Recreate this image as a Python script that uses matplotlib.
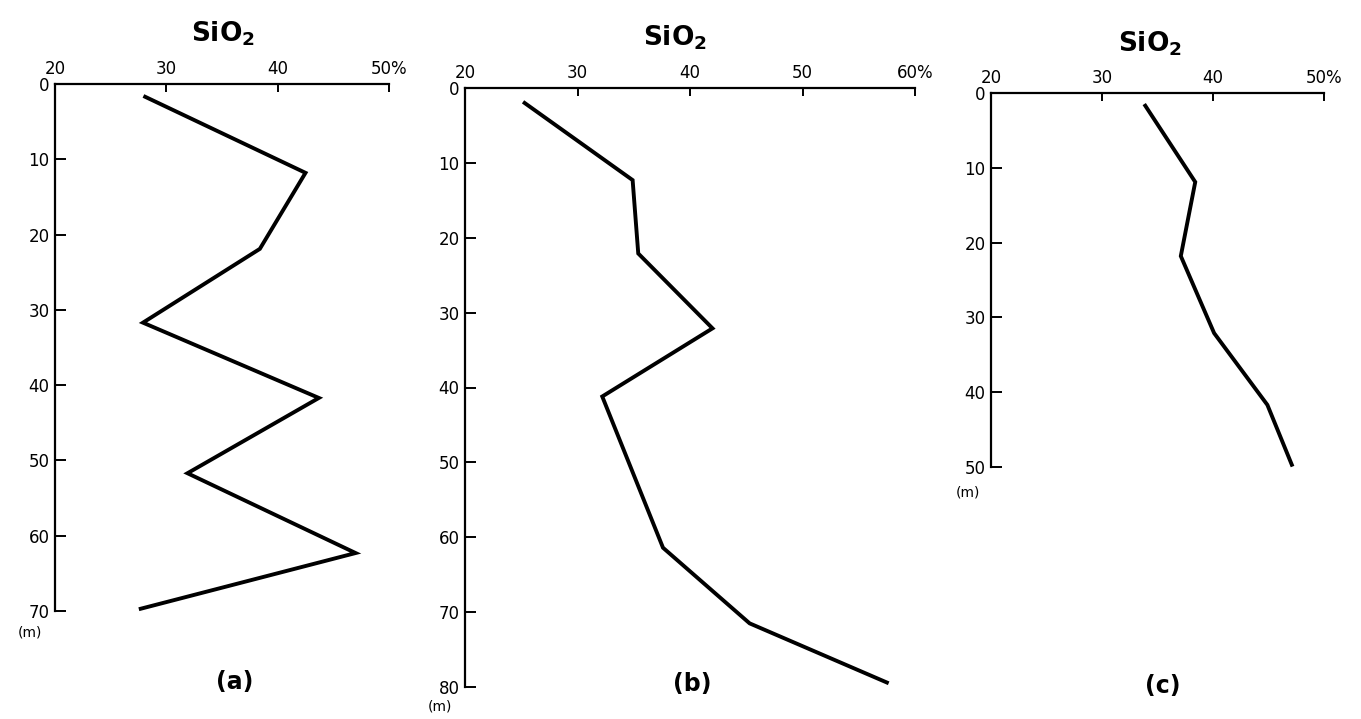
import matplotlib.pyplot as plt

# SiO2 (%) vs depth (m), three profiles
depth_a = [1.7, 11.8, 21.9, 31.7, 41.7, 51.7, 62.3, 69.7]
sio2_a = [28.1, 42.5, 38.4, 27.9, 43.7, 31.9, 47.0, 27.7]

depth_b = [2.0, 12.3, 22.1, 32.1, 41.2, 61.4, 71.5, 79.4]
sio2_b = [25.3, 34.9, 35.4, 42.0, 32.2, 37.6, 45.3, 57.5]

depth_c = [1.7, 11.9, 21.8, 32.1, 41.7, 49.7]
sio2_c = [33.9, 38.4, 37.1, 40.1, 44.9, 47.1]

xticks_a = [20, 30, 40, 50]
xlabels_a = ['20', '30', '40', '50%']
xticks_b = [20, 30, 40, 50, 60]
xlabels_b = ['20', '30', '40', '50', '60%']
xticks_c = [20, 30, 40, 50]
xlabels_c = ['20', '30', '40', '50%']

fig = plt.figure(figsize=(13.61, 7.19), dpi=100)


def panel(rect, x, y, xticks, xlabels, ymax, tag, tag_pos, title_pos, m_pos):
    ax = fig.add_axes(rect)
    ax.plot(x, y, color='black', lw=2.8, solid_joinstyle='miter', clip_on=False)
    ax.set_xlim(xticks[0], xticks[-1])
    ax.set_ylim(ymax, 0)
    ax.xaxis.tick_top()
    ax.set_xticks(xticks)
    ax.set_xticklabels(xlabels)
    ax.set_yticks(range(0, ymax + 1, 10))
    ax.spines['right'].set_visible(False)
    ax.spines['bottom'].set_visible(False)
    ax.spines['left'].set_linewidth(1.6)
    ax.spines['top'].set_linewidth(1.6)
    ax.tick_params(axis='x', direction='in', length=6, width=1.4, labelsize=12, pad=4)
    ax.tick_params(axis='y', direction='in', length=8, width=1.4, labelsize=12, pad=4)
    fig.text(tag_pos[0], tag_pos[1], tag, fontsize=17, fontweight='bold', ha='center', va='center')
    fig.text(title_pos[0], title_pos[1], r'$\mathbf{SiO_2}$', fontsize=19, ha='center', va='center')
    fig.text(m_pos[0], m_pos[1], '(m)', fontsize=10, ha='center', va='center')
    return ax


W, H = 1361, 719
panel([55 / W, 1 - 611 / H, 334 / W, 527 / H], sio2_a, depth_a, xticks_a, xlabels_a, 70,
      '(a)', (235 / W, 1 - 682 / H), (223 / W, 1 - 34 / H), (30 / W, 1 - 633 / H))
panel([465 / W, 1 - 687 / H, 450 / W, 599 / H], sio2_b, depth_b, xticks_b, xlabels_b, 80,
      '(b)', (692 / W, 1 - 684 / H), (675 / W, 1 - 38 / H), (440 / W, 1 - 707 / H))
panel([991 / W, 1 - 467 / H, 333 / W, 374 / H], sio2_c, depth_c, xticks_c, xlabels_c, 50,
      '(c)', (1163 / W, 1 - 686 / H), (1150 / W, 1 - 44 / H), (968 / W, 1 - 492 / H))

plt.savefig('out.png', dpi=100)
